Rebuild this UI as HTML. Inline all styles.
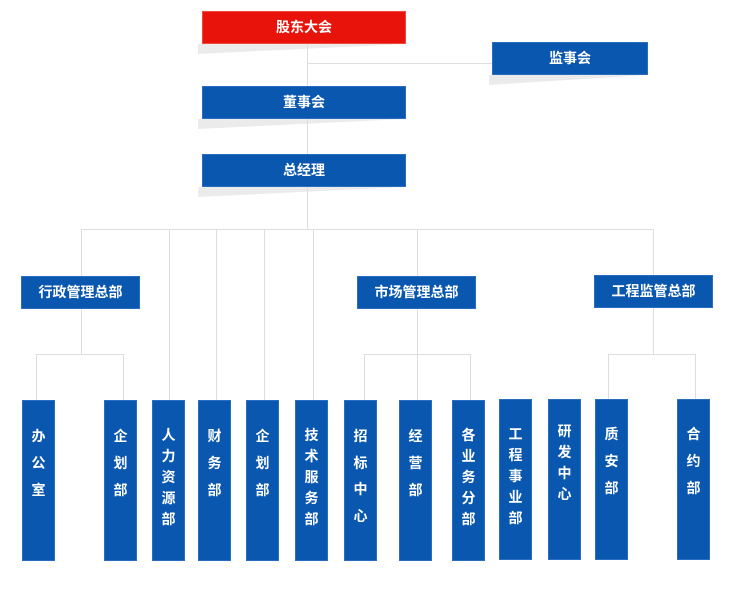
<!DOCTYPE html><html><head><meta charset="utf-8"><style>
body{margin:0;width:729px;height:599px;background:#fff;position:relative;overflow:hidden;font-family:"Liberation Sans","Noto Sans CJK SC",sans-serif}
.b{position:absolute;background:#0a57b0;color:#fff;font-size:14px;font-weight:bold;text-align:center;box-shadow:inset 0 0 0 1px #2a6cc0}
.h{height:33px;line-height:33px}
.r{background:#e8130a;box-shadow:inset 0 0 0 1px #f04a40}
.sh{position:absolute;background:#ebebeb;clip-path:polygon(0 0,100% 0,0 100%)}
.l{position:absolute;background:#dedede}
.v{width:33px;height:161px;font-size:14px}
.v span{display:block}
</style></head><body>
<div class="sh" style="left:198px;top:44px;width:208px;height:10px"></div>
<div class="sh" style="left:198px;top:119px;width:208px;height:10px"></div>
<div class="sh" style="left:198px;top:187px;width:208px;height:10px"></div>
<div class="sh" style="left:489px;top:75px;width:159px;height:10px"></div>
<div class="l" style="left:307px;top:44px;width:1px;height:186px"></div>
<div class="l" style="left:307px;top:63px;width:185px;height:1px"></div>
<div class="l" style="left:81px;top:229px;width:573px;height:1px"></div>
<div class="l" style="left:81px;top:229px;width:1px;height:125px"></div>
<div class="l" style="left:169px;top:229px;width:1px;height:171px"></div>
<div class="l" style="left:216px;top:229px;width:1px;height:171px"></div>
<div class="l" style="left:264px;top:229px;width:1px;height:171px"></div>
<div class="l" style="left:313px;top:229px;width:1px;height:171px"></div>
<div class="l" style="left:417px;top:229px;width:1px;height:171px"></div>
<div class="l" style="left:653px;top:229px;width:1px;height:125px"></div>
<div class="l" style="left:36px;top:354px;width:88px;height:1px"></div>
<div class="l" style="left:36px;top:354px;width:1px;height:46px"></div>
<div class="l" style="left:123px;top:354px;width:1px;height:46px"></div>
<div class="l" style="left:364px;top:354px;width:107px;height:1px"></div>
<div class="l" style="left:364px;top:354px;width:1px;height:46px"></div>
<div class="l" style="left:470px;top:354px;width:1px;height:46px"></div>
<div class="l" style="left:608px;top:354px;width:88px;height:1px"></div>
<div class="l" style="left:608px;top:354px;width:1px;height:46px"></div>
<div class="l" style="left:695px;top:354px;width:1px;height:46px"></div>

<div class="b h r" style="left:202px;top:11px;width:204px">股东大会</div>
<div class="b h" style="left:492px;top:42px;width:156px">监事会</div>
<div class="b h" style="left:202px;top:86px;width:204px">董事会</div>
<div class="b h" style="left:202px;top:154px;width:204px">总经理</div>
<div class="b h" style="left:21px;top:276px;width:119px">行政管理总部</div>
<div class="b h" style="left:357px;top:276px;width:119px">市场管理总部</div>
<div class="b h" style="left:594px;top:275px;width:119px">工程监管总部</div>

<div class="b v" style="left:22px;top:400px;padding-top:23px;height:138px;line-height:27px">办<br>公<br>室</div>
<div class="b v" style="left:104px;top:400px;padding-top:23px;height:138px;line-height:27px">企<br>划<br>部</div>
<div class="b v" style="left:152px;top:400px;padding-top:25px;height:136px;line-height:21px">人<br>力<br>资<br>源<br>部</div>
<div class="b v" style="left:198px;top:400px;padding-top:23px;height:138px;line-height:27px">财<br>务<br>部</div>
<div class="b v" style="left:246px;top:400px;padding-top:23px;height:138px;line-height:27px">企<br>划<br>部</div>
<div class="b v" style="left:295px;top:400px;padding-top:25px;height:136px;line-height:21px">技<br>术<br>服<br>务<br>部</div>
<div class="b v" style="left:344px;top:400px;padding-top:23px;height:138px;line-height:26.7px">招<br>标<br>中<br>心</div>
<div class="b v" style="left:399px;top:400px;padding-top:23px;height:138px;line-height:27px">经<br>营<br>部</div>
<div class="b v" style="left:452px;top:400px;padding-top:25px;height:136px;line-height:21px">各<br>业<br>务<br>分<br>部</div>
<div class="b v" style="left:499px;top:399px;padding-top:25px;height:136px;line-height:21px">工<br>程<br>事<br>业<br>部</div>
<div class="b v" style="left:548px;top:399px;padding-top:22px;height:139px;line-height:21px">研<br>发<br>中<br>心</div>
<div class="b v" style="left:595px;top:399px;padding-top:22px;height:139px;line-height:27px">质<br>安<br>部</div>
<div class="b v" style="left:677px;top:399px;padding-top:22px;height:139px;line-height:27px">合<br>约<br>部</div>
</body></html>
